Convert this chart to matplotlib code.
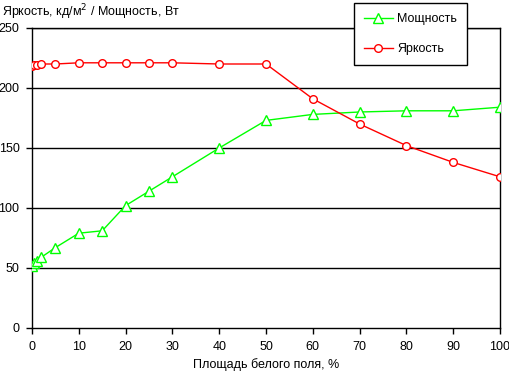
import matplotlib
matplotlib.use("Agg")
import matplotlib.pyplot as plt

plt.rcParams['font.family'] = ['Liberation Sans', 'DejaVu Sans']

x_power = [0, 0.5, 1, 2, 5, 10, 15, 20, 25, 30, 40, 50, 60, 70, 80, 90, 100]
power = [52, 54, 56, 59, 67, 79, 81, 102, 114, 126, 150, 173, 178, 180, 181, 181, 184]
x_bright = [0, 0.5, 1, 2, 5, 10, 15, 20, 25, 30, 40, 50, 60, 70, 80, 90, 100]
bright = [218, 219, 219, 220, 220, 221, 221, 221, 221, 221, 220, 220, 191, 170, 152, 138, 126]

fig = plt.figure(figsize=(5.1, 3.74), dpi=100)
ax = fig.add_axes([32/510, 46/374, 468/510, 300/374])

for y in [50, 100, 150, 200, 250]:
    ax.axhline(y, color='black', lw=1, zorder=1)

lp, = ax.plot(x_power, power, color='#00ff00', lw=1, marker='^', ms=7,
              mfc='white', mec='#00ff00', mew=1, label='Мощность', zorder=3)
lb, = ax.plot(x_bright, bright, color='#ff0000', lw=1, marker='o', ms=5.5,
              mfc='white', mec='#ff0000', mew=1, label='Яркость', zorder=3)

ax.set_xlim(0, 100)
ax.set_ylim(0, 250)
ax.set_xticks(range(0, 101, 10))
ax.set_yticks(range(0, 251, 50))
ax.tick_params(direction='out', length=4, width=1, labelsize=9, colors='black', pad=5)
for s in ax.spines.values():
    s.set_linewidth(1)
    s.set_color('black')

ax.set_xlabel('Площадь белого поля, %', fontsize=9, labelpad=4)
fig.text(2/510, 1 - 12/374, 'Яркость, кд/м$^2$ / Мощность, Вт', fontsize=9,
         va='center', ha='left')

leg = fig.legend(handles=[lp, lb], loc='upper left',
                 bbox_to_anchor=(354/510, 1 - 3/374), fontsize=9,
                 frameon=True, fancybox=False, edgecolor='black',
                 framealpha=1, borderpad=0.8, labelspacing=1.45,
                 handlelength=2.3, handletextpad=0.35, borderaxespad=0)
leg.get_frame().set_linewidth(1)

fig.savefig('out.png', dpi=100)
